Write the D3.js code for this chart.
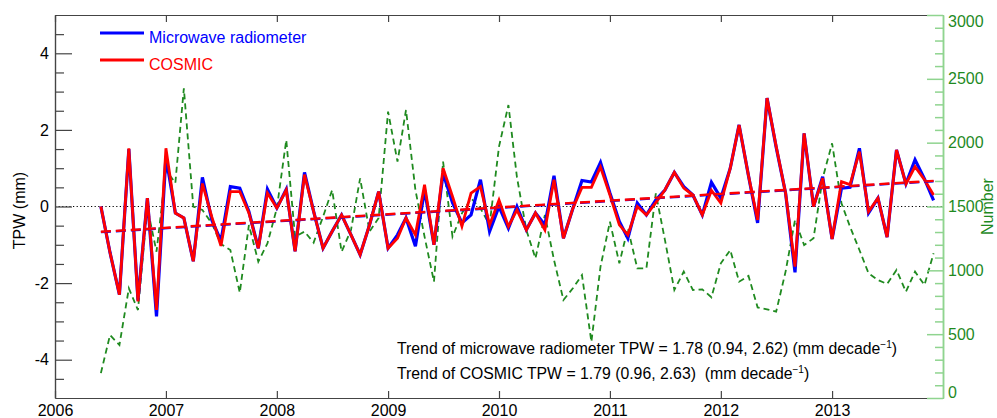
<!DOCTYPE html>
<html>
<head>
<meta charset="utf-8">
<script src="https://cdn.jsdelivr.net/npm/d3@7"></script>
<style>
body { margin: 0; background: #fff; }
svg text { font-family: "Liberation Sans", Arial, sans-serif; }
</style>
</head>
<body>
<svg id="chart" width="997" height="418"></svg>
<script>
// monthly anomalies, Jun 2006 .. Dec 2013
const microwave = [0.0, -1.2, -2.3, 1.5, -2.45, 0.22, -2.87, 1.3, -0.17, -0.3,
  -1.43, 0.76, -0.35, -0.9, 0.52, 0.48, -0.13, -1.09, 0.45, -0.04,
  0.45, -1.17, 0.89, -0.13, -1.09, -0.65, -0.22, -0.74, -1.26, -0.48,
  0.39, -1.09, -0.74, -0.3, -1.04, 0.43, -1.0, 0.87, 0.1, -0.43,
  -0.22, 0.7, -0.65, 0.0, -0.57, 0.0, -0.61, -0.17, -0.48, 0.8,
  -0.83, -0.05, 0.68, 0.64, 1.15, 0.35, -0.39, -0.83, 0.09, -0.22,
  0.17, 0.43, 0.89, 0.52, 0.3, -0.22, 0.63, 0.22, 1.0, 2.13,
  0.8, -0.43, 2.83, 1.55, 0.35, -1.72, 1.91, 0.0, 0.78, -0.85,
  0.48, 0.5, 1.52, -0.17, 0.22, -0.8, 1.48, 0.59, 1.22, 0.72, 0.16]

const cosmic = [0.0, -1.2, -2.3, 1.52, -2.48, 0.22, -2.7, 1.52, -0.17, -0.3,
  -1.43, 0.6, -0.27, -1.03, 0.39, 0.39, -0.17, -1.09, 0.35, -0.04,
  0.43, -1.17, 0.83, -0.13, -1.09, -0.65, -0.22, -0.74, -1.26, -0.48,
  0.39, -1.09, -0.83, -0.3, -0.74, 0.57, -1.0, 1.0, 0.26, -0.52,
  0.35, 0.52, -0.48, 0.17, -0.52, -0.09, -0.61, -0.17, -0.61, 0.7,
  -0.83, -0.05, 0.5, 0.5, 1.03, 0.3, -0.48, -0.74, 0.0, -0.22,
  0.1, 0.43, 0.89, 0.48, 0.3, -0.22, 0.42, 0.09, 1.0, 2.13,
  0.8, -0.35, 2.83, 1.57, 0.35, -1.57, 1.91, 0.0, 0.74, -0.85,
  0.65, 0.57, 1.43, -0.13, 0.22, -0.8, 1.48, 0.59, 1.04, 0.7, 0.3]

const counts = [195, 493, 415, 859, 689, 1490, 1146, 1786, 1684, 2426,
  1499, 1473, 1368, 1206, 1159, 825, 1355, 1068, 1211, 1486,
  2021, 1264, 1303, 1217, 1420, 1629, 1146, 1316, 1721, 1303,
  1410, 2243, 1851, 2256, 1629, 1264, 911, 1851, 1264, 1446,
  1564, 1486, 1355, 1969, 2295, 1730, 1316, 1094, 1433, 1081,
  768, 859, 963, 440, 1029, 1381, 1055, 1329, 1016, 1016,
  1603, 1238, 846, 990, 846, 851, 789, 1055, 1159, 911,
  956, 710, 695, 676, 990, 1394, 1198, 1251, 1721, 1995,
  1525, 1342, 1159, 977, 924, 893, 1003, 833, 990, 885, 1133]

// trend line values at first and last month
const trendMicrowave = [-0.67, 0.66]
const trendCosmic = [-0.66, 0.67]

const yearTicks = [2006, 2007, 2008, 2009, 2010, 2011, 2012, 2013]
const tpwTicks = [-4, -2, 0, 2, 4]
const tpwMinor = d3.range(-4.5, 5, 0.5).filter(v => v % 2 != 0)
const countTicks = [0, 500, 1000, 1500, 2000, 2500, 3000]
const countMinor = d3.range(100, 3000, 100).filter(v => v % 500 != 0)

const legendNames = ['Microwave radiometer', 'COSMIC']
const trendLabels = [
  ['Trend of microwave radiometer TPW = 1.78 (0.94, 2.62) (mm decade', '\u22121', ')'],
  ['Trend of COSMIC TPW = 1.79 (0.96, 2.63)  (mm decade', '\u22121', ')']
]

let months = d3.timeMonth.range(new Date(2006, 5, 1), new Date(2014, 0, 1))

let svg = d3.select('#chart')
let margin = {left: 55, right: 54, top: 15, bottom: 20}
let width = 997
let height = 418

let x = d3.scaleTime()
  .domain([new Date(2006, 0, 1), new Date(2014, 0, 1)])
  .range([margin.left, width - margin.right])

let y = d3.scaleLinear()
  .domain([-5, 5])
  .range([height - margin.bottom, margin.top])

let yCount = d3.scaleLinear()
  .domain([0, 3000])
  .range([height - margin.bottom, margin.top])

let axisColor = '#444'
let green = '#1f8a1f'
let lightGreen = '#8fd48f'

// zero line
svg.append('line')
  .attr('x1', x.range()[0]).attr('x2', x.range()[1])
  .attr('y1', y(0)).attr('y2', y(0))
  .attr('stroke', 'black')
  .attr('stroke-width', 1.2)
  .attr('stroke-dasharray', '1.2,2.4')

// number of profiles
svg.append('path')
  .datum(counts)
  .attr('fill', 'none')
  .attr('stroke', green)
  .attr('stroke-width', 1.8)
  .attr('stroke-dasharray', '6,4')
  .attr('d', d3.line().x((d, i) => x(months[i])).y(d => yCount(d)))

let tpwLine = d3.line().x((d, i) => x(months[i])).y(d => y(d))

svg.append('path')
  .datum(microwave)
  .attr('fill', 'none')
  .attr('stroke', 'blue')
  .attr('stroke-width', 3.2)
  .attr('d', tpwLine)

svg.append('path')
  .datum(cosmic)
  .attr('fill', 'none')
  .attr('stroke', 'red')
  .attr('stroke-width', 2.8)
  .attr('d', tpwLine)

// trend lines
let first = months[0]
let last = months[months.length - 1]
let trends = [[trendMicrowave, 'blue'], [trendCosmic, 'red']]
trends.forEach(t => {
  svg.append('line')
    .attr('x1', x(first)).attr('y1', y(t[0][0]))
    .attr('x2', x(last)).attr('y2', y(t[0][1]))
    .attr('stroke', t[1])
    .attr('stroke-width', 2.4)
    .attr('stroke-dasharray', '10,5')
})

// axes
let axisBottomG = svg.append('g')
  .attr('transform', `translate(0 ${height - margin.bottom})`)
  .call(d3.axisBottom(x)
    .tickValues(yearTicks.map(v => new Date(v, 0, 1)))
    .tickFormat(d3.timeFormat('%Y'))
    .tickSize(-7).tickSizeOuter(0).tickPadding(7))

let axisTopG = svg.append('g')
  .attr('transform', `translate(0 ${margin.top})`)
  .call(d3.axisTop(x)
    .tickValues(yearTicks.map(v => new Date(v, 0, 1)))
    .tickFormat('')
    .tickSize(-7).tickSizeOuter(0))

let axisLeftG = svg.append('g')
  .attr('transform', `translate(${margin.left} 0)`)
  .call(d3.axisLeft(y).tickValues(tpwTicks).tickFormat(d => String(d))
    .tickSize(-17).tickSizeOuter(0).tickPadding(6))

let axisLeftMinorG = svg.append('g')
  .attr('transform', `translate(${margin.left} 0)`)
  .call(d3.axisLeft(y).tickValues(tpwMinor).tickFormat('')
    .tickSize(-9).tickSizeOuter(0))

let axisRightG = svg.append('g')
  .attr('transform', `translate(${width - margin.right} 0)`)
  .call(d3.axisRight(yCount).tickValues(countTicks).tickFormat(d => String(d))
    .tickSize(-16).tickSizeOuter(0).tickPadding(5))

let axisRightMinorG = svg.append('g')
  .attr('transform', `translate(${width - margin.right} 0)`)
  .call(d3.axisRight(yCount).tickValues(countMinor).tickFormat('')
    .tickSize(-8).tickSizeOuter(0))

;[axisBottomG, axisTopG, axisLeftG, axisLeftMinorG].forEach(g => {
  g.selectAll('path, line').attr('stroke', axisColor).attr('stroke-width', 1.2)
  g.selectAll('text').attr('fill', 'black').style('font-size', '16px')
})
;[axisRightG, axisRightMinorG].forEach(g => {
  g.selectAll('path, line').attr('stroke', lightGreen).attr('stroke-width', 1.5)
  g.selectAll('text').attr('fill', green).style('font-size', '16px')
})
// end labels kept inside the frame
axisRightG.selectAll('.tick text')
  .attr('y', d => d == 3000 ? 6 : d == 0 ? -6 : 0)

// axis titles
svg.append('text')
  .attr('transform', `translate(25 ${(y(5) + y(-5)) / 2 + 4}) rotate(-90)`)
  .attr('text-anchor', 'middle')
  .style('font-size', '16px')
  .text('TPW (mm)')

svg.append('text')
  .attr('transform', `translate(993 ${(y(5) + y(-5)) / 2}) rotate(-90)`)
  .attr('text-anchor', 'middle')
  .attr('fill', green)
  .style('font-size', '16px')
  .text('Number')

// legend
let legend = svg.selectAll('g.legend')
  .data(legendNames)
  .enter()
  .append('g')
  .attr('class', 'legend')
  .attr('transform', (d, i) => `translate(100 ${33 + i * 27})`)

legend.append('line')
  .attr('x1', 0).attr('x2', 44)
  .attr('stroke', (d, i) => i == 0 ? 'blue' : 'red')
  .attr('stroke-width', 3)

legend.append('text')
  .attr('x', 49)
  .attr('y', 10)
  .attr('fill', (d, i) => i == 0 ? 'blue' : 'red')
  .style('font-size', '16px')
  .text(d => d)

// trend text
let notes = svg.selectAll('text.note')
  .data(trendLabels)
  .enter()
  .append('text')
  .attr('class', 'note')
  .attr('x', 397)
  .attr('y', (d, i) => 354 + i * 25)
  .style('font-size', '15.8px')
  .style('white-space', 'pre')

notes.append('tspan').text(d => d[0])
notes.append('tspan').attr('dy', -6).style('font-size', '10px').text(d => d[1])
notes.append('tspan').attr('dy', 6).text(d => d[2])
</script>
</body>
</html>
